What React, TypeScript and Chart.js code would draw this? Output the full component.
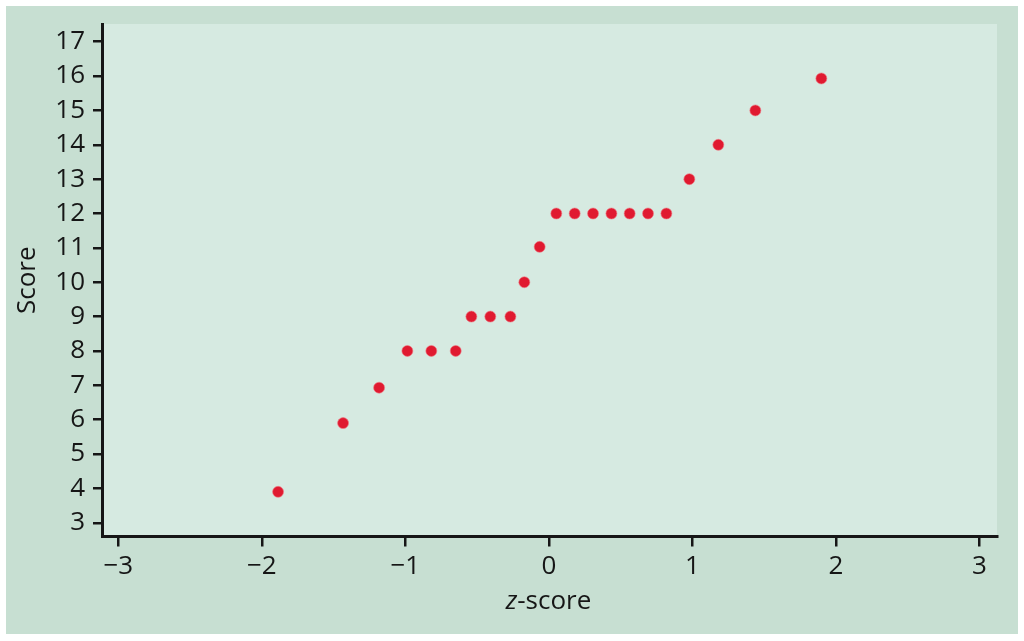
import React, { useEffect, useRef } from "react";
import { Chart, registerables } from "chart.js";

Chart.register(...registerables);

const zScores = [
  -1.887, -1.434, -1.183, -0.986, -0.819, -0.649, -0.54, -0.408, -0.268, -0.171, -0.064,
  0.052, 0.18, 0.308, 0.436, 0.563, 0.691, 0.819, 0.979, 1.181, 1.439, 1.899,
];
const scores = [3.9, 5.9, 6.93, 8, 8, 8, 9, 9, 9, 10, 11.03, 12, 12, 12, 12, 12, 12, 12, 13, 14, 15, 15.93];
const xTicks = [-3, -2, -1, 0, 1, 2, 3];
const yTicks = [3, 4, 5, 6, 7, 8, 9, 10, 11, 12, 13, 14, 15, 16, 17];
const xTitleItalic = "z";
const xTitleRest = "-score";
const yTitle = "Score";

const OUTER = "#c7dfd2";
const INNER = "#d6eae1";
const INK = "#161616";
const FONT = "'Open Sans', 'Noto Sans', sans-serif";
const FS = 26;

const fmt = (v: number) => (v < 0 ? "\u2212" + Math.abs(v) : String(v));

export default function App() {
  const ref = useRef<HTMLCanvasElement | null>(null);
  useEffect(() => {
    if (!ref.current) return;
    const bgPlugin = {
      id: "bgPlugin",
      beforeDraw(chart: any) {
        const { ctx, chartArea } = chart;
        ctx.save();
        ctx.fillStyle = INNER;
        ctx.fillRect(chartArea.left, chartArea.top, chartArea.right - chartArea.left, chartArea.bottom - chartArea.top);
        ctx.restore();
      },
      afterDraw(chart: any) {
        const { ctx, chartArea } = chart;
        ctx.save();
        ctx.fillStyle = INK;
        ctx.textBaseline = "middle";
        // x title
        const cx = (chartArea.left + chartArea.right) / 2 + (542.5 - (96 + 991) / 2);
        const cy = chartArea.bottom + 65.5;
        ctx.font = `italic ${FS}px ${FONT}`;
        const w1 = ctx.measureText(xTitleItalic).width;
        ctx.font = `${FS}px ${FONT}`;
        const w2 = ctx.measureText(xTitleRest).width;
        const start = cx - (w1 + w2) / 2;
        ctx.textAlign = "left";
        ctx.font = `italic ${FS}px ${FONT}`;
        ctx.fillText(xTitleItalic, start, cy);
        ctx.font = `${FS}px ${FONT}`;
        ctx.fillText(xTitleRest, start + w1, cy);
        // y title
        ctx.translate(22, (chartArea.top + chartArea.bottom) / 2);
        ctx.rotate(-Math.PI / 2);
        ctx.textAlign = "center";
        ctx.fillText(yTitle, 0, 0);
        ctx.restore();
      },
    };
    const chart = new Chart(ref.current, {
      type: "scatter",
      data: {
        datasets: [
          {
            data: zScores.map((x, i) => ({ x, y: scores[i] })),
            backgroundColor: "#e01a30",
            borderColor: "rgba(240,120,130,0.6)",
            borderWidth: 1,
            pointRadius: 5.5,
          },
        ],
      },
      options: {
        animation: false,
        responsive: false,
        maintainAspectRatio: false,
        layout: { padding: { left: 0, top: 18, right: 21, bottom: 0 } },
        plugins: { legend: { display: false }, tooltip: { enabled: false } },
        scales: {
          x: {
            type: "linear",
            min: -3.114,
            max: 3.123,
            afterBuildTicks: (s: any) => {
              s.ticks = xTicks.map((v) => ({ value: v }));
            },
            afterFit: (s: any) => {
              s.height = 97.5;
              s.paddingLeft = 0;
              s.paddingRight = 0;
            },
            grid: { display: true, drawOnChartArea: false, drawTicks: true, tickLength: 10, color: INK, lineWidth: 2.5 },
            border: { display: true, color: INK, width: 3 },
            ticks: { color: INK, font: { family: FONT, size: FS }, padding: 4, maxRotation: 0, callback: (v: any) => fmt(Number(v)) },
          },
          y: {
            type: "linear",
            min: 2.6,
            max: 17.515,
            afterBuildTicks: (s: any) => {
              s.ticks = yTicks.map((v) => ({ value: v }));
            },
            afterFit: (s: any) => {
              s.width = 96;
              s.paddingTop = 0;
              s.paddingBottom = 0;
            },
            grid: { display: true, drawOnChartArea: false, drawTicks: true, tickLength: 9, color: INK, lineWidth: 2.5 },
            border: { display: true, color: INK, width: 3 },
            ticks: { color: INK, font: { family: FONT, size: FS }, padding: 8, callback: (v: any) => fmt(Number(v)) },
          },
        },
      },
      plugins: [bgPlugin],
    });
    return () => chart.destroy();
  }, []);
  return (
    <div style={{ position: "absolute", left: 0, top: 0, width: 1024, height: 641, background: "#ffffff" }}>
      <div style={{ position: "absolute", left: 6, top: 6, width: 1012, height: 628, background: OUTER }}>
        <canvas ref={ref} width={1012} height={628} style={{ display: "block", width: 1012, height: 628 }} />
      </div>
    </div>
  );
}
